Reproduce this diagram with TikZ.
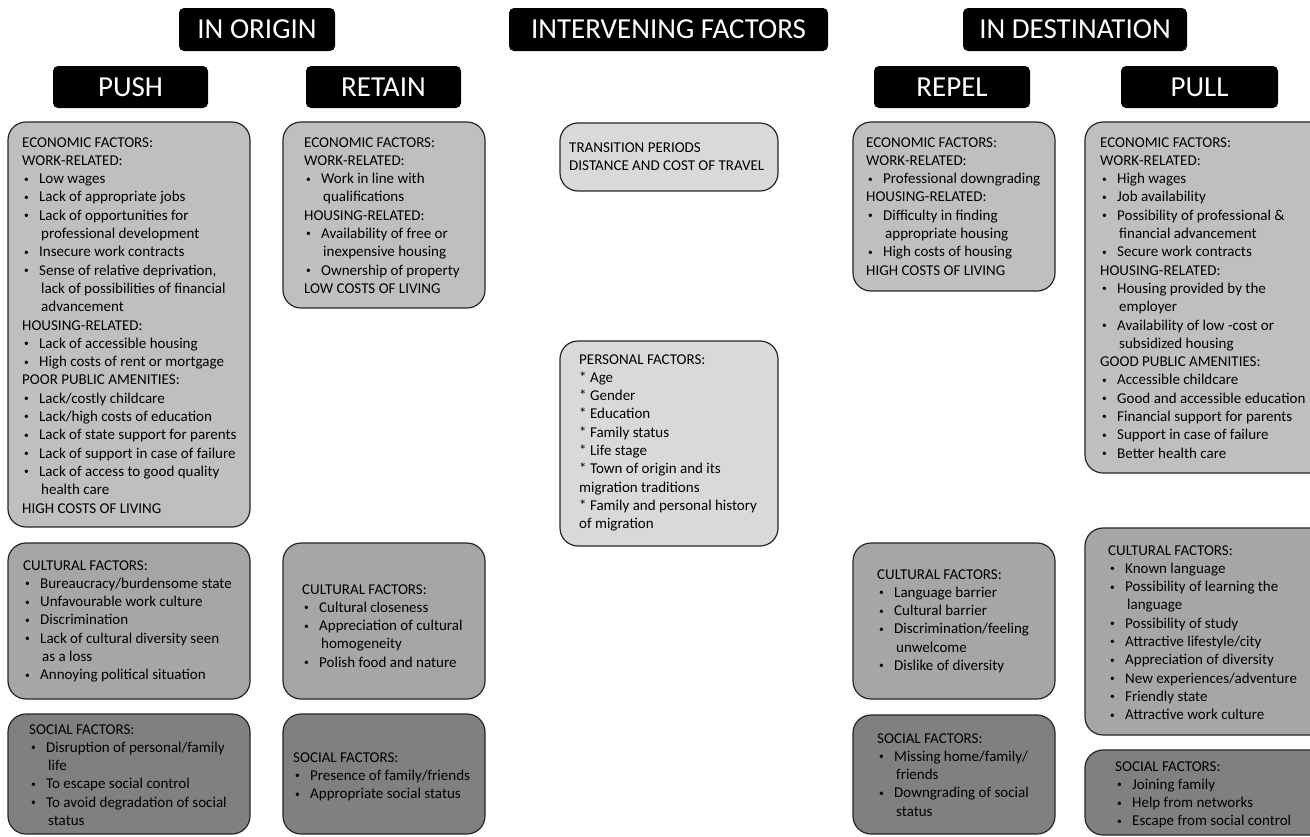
\documentclass[tikz,border=0pt]{standalone}
\usepackage{fontspec}
\setmainfont{Carlito}
\definecolor{econc}{HTML}{BFBFBF}
\definecolor{cultc}{HTML}{A6A6A6}
\definecolor{socc}{HTML}{808080}
\definecolor{interc}{HTML}{D9D9D9}
\definecolor{bordc}{HTML}{262626}
\newcommand{\HL}[1]{\hbox{#1}}
\newcommand{\smallbul}{\raisebox{1.6pt}{\fontsize{9.5}{9.5}\selectfont\textbullet}}
\newcommand{\BL}[1]{\hbox{\kern2pt\hbox to 15pt{\smallbul\hss}#1}}
\newcommand{\CL}[1]{\hbox{\kern19pt #1}}
\newcommand{\TB}[1]{\vtop{\baselineskip=18.3pt\lineskiplimit=-100pt\lineskip=0pt #1}}
\tikzset{
  hdr/.style={fill=black, text=white, rounded corners=5pt, inner sep=0pt, font=\fontsize{29}{34}\selectfont},
  factbox/.style={draw=bordc, line width=1.2pt, rounded corners=18pt, inner sep=0pt},
  txt/.style={anchor=base west, inner sep=0pt, font=\fontsize{15}{18.3}\selectfont},
}
\begin{document}
\begin{tikzpicture}[x=1pt,y=-1pt]
\useasboundingbox (0,0) rectangle (1310,836);
\fill[white] (0,0) rectangle (1310,836);
% headers
\node[hdr, minimum width=156pt, minimum height=43pt] (hOrigin) at (257,29.5) {IN ORIGIN};
\node[hdr, minimum width=319pt, minimum height=43pt] (hInter) at (668.5,29.5) {INTERVENING FACTORS};
\node[hdr, minimum width=224pt, minimum height=43pt] (hDest) at (1075,29.5) {IN DESTINATION};
\node[hdr, minimum width=155pt, minimum height=42pt] (hPush) at (130.5,87) {PUSH};
\node[hdr, minimum width=155pt, minimum height=42pt] (hRetain) at (383.5,87) {RETAIN};
\node[hdr, minimum width=156pt, minimum height=42pt] (hRepel) at (952,87) {REPEL};
\node[hdr, minimum width=157pt, minimum height=42pt] (hPull) at (1199.5,87) {PULL};
% boxes
\node[factbox, fill=econc, minimum width=242pt, minimum height=405pt] (pushEcon) at (129,324.5) {};
\node[factbox, fill=econc, minimum width=202pt, minimum height=186pt] (retainEcon) at (384,215) {};
\node[factbox, fill=interc, minimum width=218pt, minimum height=68pt] (interTrans) at (669,157) {};
\node[factbox, fill=interc, minimum width=218pt, minimum height=205pt] (interPers) at (669,443.5) {};
\node[factbox, fill=econc, minimum width=202pt, minimum height=169pt] (repelEcon) at (954,206.5) {};
\node[factbox, fill=econc, minimum width=245pt, minimum height=351pt] (pullEcon) at (1207.5,297.5) {};
\node[factbox, fill=cultc, minimum width=242pt, minimum height=156pt] (pushCult) at (129,621) {};
\node[factbox, fill=cultc, minimum width=202pt, minimum height=156pt] (retainCult) at (384,621) {};
\node[factbox, fill=cultc, minimum width=202pt, minimum height=156pt] (repelCult) at (954,621) {};
\node[factbox, fill=cultc, minimum width=245pt, minimum height=207pt] (pullCult) at (1207.5,631.5) {};
\node[factbox, fill=socc, minimum width=242pt, minimum height=120pt] (pushSoc) at (129,774) {};
\node[factbox, fill=socc, minimum width=202pt, minimum height=120pt] (retainSoc) at (384,774) {};
\node[factbox, fill=socc, minimum width=202pt, minimum height=119pt] (repelSoc) at (954,774.5) {};
\node[factbox, fill=socc, minimum width=245pt, minimum height=85pt] (pullSoc) at (1207.5,792.5) {};
% texts
\node[txt] (pushEconT) at (22,147) {\TB{%
\HL{ECONOMIC FACTORS:}
\HL{WORK-RELATED:}
\BL{Low wages}
\BL{Lack of appropriate jobs}
\BL{Lack of opportunities for}
\CL{professional development}
\BL{Insecure work contracts}
\BL{Sense of relative deprivation,}
\CL{lack of possibilities of financial}
\CL{advancement}
\HL{HOUSING-RELATED:}
\BL{Lack of accessible housing}
\BL{High costs of rent or mortgage}
\HL{POOR PUBLIC AMENITIES:}
\BL{Lack/costly childcare}
\BL{Lack/high costs of education}
\BL{Lack of state support for parents}
\BL{Lack of support in case of failure}
\BL{Lack of access to good quality}
\CL{health care}
\HL{HIGH COSTS OF LIVING}}};
\node[txt] (retainEconT) at (304,147) {\TB{%
\HL{ECONOMIC FACTORS:}
\HL{WORK-RELATED:}
\BL{Work in line with}
\CL{qualifications}
\HL{HOUSING-RELATED:}
\BL{Availability of free or}
\CL{inexpensive housing}
\BL{Ownership of property}
\HL{LOW COSTS OF LIVING}}};
\node[txt] (interTransT) at (569,152) {\TB{%
\HL{TRANSITION PERIODS}
\HL{DISTANCE AND COST OF TRAVEL}}};
\node[txt] (interPersT) at (579,364) {\TB{%
\HL{PERSONAL FACTORS:}
\HL{* Age}
\HL{* Gender}
\HL{* Education}
\HL{* Family status}
\HL{* Life stage}
\HL{* Town of origin and its}
\HL{migration traditions}
\HL{* Family and personal history}
\HL{of migration}}};
\node[txt] (repelEconT) at (866,147) {\TB{%
\HL{ECONOMIC FACTORS:}
\HL{WORK-RELATED:}
\BL{Professional downgrading}
\HL{HOUSING-RELATED:}
\BL{Difficulty in finding}
\CL{appropriate housing}
\BL{High costs of housing}
\HL{HIGH COSTS OF LIVING}}};
\node[txt] (pullEconT) at (1100,147) {\TB{%
\HL{ECONOMIC FACTORS:}
\HL{WORK-RELATED:}
\BL{High wages}
\BL{Job availability}
\BL{Possibility of professional \&}
\CL{financial advancement}
\BL{Secure work contracts}
\HL{HOUSING-RELATED:}
\BL{Housing provided by the}
\CL{employer}
\BL{Availability of low -cost or}
\CL{subsidized housing}
\HL{GOOD PUBLIC AMENITIES:}
\BL{Accessible childcare}
\BL{Good and accessible education}
\BL{Financial support for parents}
\BL{Support in case of failure}
\BL{Better health care}}};
\node[txt] (pushCultT) at (23,570) {\TB{%
\HL{CULTURAL FACTORS:}
\BL{Bureaucracy/burdensome state}
\BL{Unfavourable work culture}
\BL{Discrimination}
\BL{Lack of cultural diversity seen}
\CL{as a loss}
\BL{Annoying political situation}}};
\node[txt] (retainCultT) at (302,594) {\TB{%
\HL{CULTURAL FACTORS:}
\BL{Cultural closeness}
\BL{Appreciation of cultural}
\CL{homogeneity}
\BL{Polish food and nature}}};
\node[txt] (repelCultT) at (877,579) {\TB{%
\HL{CULTURAL FACTORS:}
\BL{Language barrier}
\BL{Cultural barrier}
\BL{Discrimination/feeling}
\CL{unwelcome}
\BL{Dislike of diversity}}};
\node[txt] (pullCultT) at (1108,555) {\TB{%
\HL{CULTURAL FACTORS:}
\BL{Known language}
\BL{Possibility of learning the}
\CL{language}
\BL{Possibility of study}
\BL{Attractive lifestyle/city}
\BL{Appreciation of diversity}
\BL{New experiences/adventure}
\BL{Friendly state}
\BL{Attractive work culture}}};
\node[txt] (pushSocT) at (29,734) {\TB{%
\HL{SOCIAL FACTORS:}
\BL{Disruption of personal/family}
\CL{life}
\BL{To escape social control}
\BL{To avoid degradation of social}
\CL{status}}};
\node[txt] (retainSocT) at (293,762) {\TB{%
\HL{SOCIAL FACTORS:}
\BL{Presence of family/friends}
\BL{Appropriate social status}}};
\node[txt] (repelSocT) at (877,743) {\TB{%
\HL{SOCIAL FACTORS:}
\BL{Missing home/family/}
\CL{friends}
\BL{Downgrading of social}
\CL{status}}};
\node[txt] (pullSocT) at (1115,771) {\TB{%
\HL{SOCIAL FACTORS:}
\BL{Joining family}
\BL{Help from networks}
\BL{Escape from social control}}};
\end{tikzpicture}
\end{document}
